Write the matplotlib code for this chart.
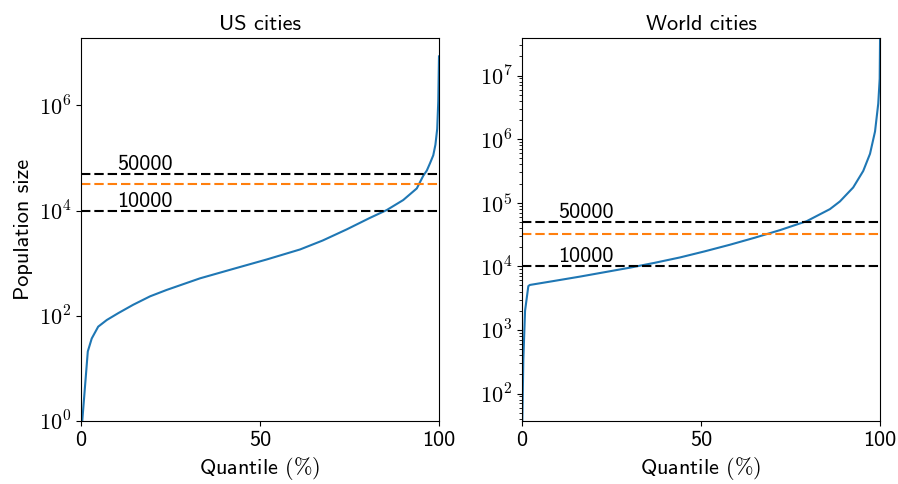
import numpy as np
import matplotlib
matplotlib.use("Agg")
import matplotlib.pyplot as plt
import matplotlib.ticker as mticker

# text in Computer Modern sans, math (tick exponents, percent sign) in CM serif
plt.rcParams["font.family"] = "cmss10"
plt.rcParams["mathtext.fontset"] = "cm"
plt.rcParams["axes.unicode_minus"] = False
plt.rcParams["font.size"] = 16

# quantile (%) -> population of the city at that quantile
us_quantile = [0, 1.9, 3.0, 4.8, 7.2, 10.4, 14.6, 19.3, 23.9, 33.2, 42.5, 51.9,
               61.2, 67.5, 74.2, 80.7, 85.4, 90.0, 93.8, 95.6, 96.6, 97.5, 98.4,
               99.0, 99.5, 99.8, 100]
us_population = [0.5, 21, 37, 62, 83, 112, 162, 234, 309, 513, 776, 1175,
                 1820, 2690, 4370, 7240, 10200, 15800, 26300, 45700, 57500,
                 79400, 112000, 178000, 355000, 1.2e6, 8.5e6]

world_quantile = [0, 0.36, 0.84, 1.76, 2.2, 9.0, 16.2, 30.2, 37.0, 44.1, 51.0,
                  58.1, 65.0, 72.1, 79.5, 86.0, 88.8, 92.5, 95.3, 97.2, 98.6,
                  99.5, 99.9, 100]
world_population = [20, 340, 2000, 4900, 5100, 5900, 6900, 9550, 11350, 13800,
                    17200, 21900, 28200, 37200, 51300, 79400, 105000, 174000,
                    316000, 589000, 1.32e6, 3.63e6, 8.9e6, 3.7e7]

thresholds = [50000, 10000]
cutoff = 32500

titles = ["US cities", "World cities"]

dash = (4.5, 1.9)
decade_fmt = mticker.FuncFormatter(lambda v, p: r"$10^{%d}$" % round(np.log10(v)))

fig, axes = plt.subplots(1, 2, figsize=(8.98, 4.84), dpi=100)
fig.subplots_adjust(left=0.0902, right=0.98, bottom=0.1302, top=0.9215, wspace=0.232)

data = [(us_quantile, us_population), (world_quantile, world_population)]
for ax, (q, pop), title in zip(axes, data, titles):
    ax.plot(q, pop, color="C0", lw=1.5)
    for t in thresholds:
        ax.axhline(t, color="k", ls="--", dashes=dash, lw=1.5)
        ax.text(10, t, str(t), va="bottom", ha="left", fontsize=16)
    ax.axhline(cutoff, color="C1", ls="--", dashes=dash, lw=1.5)
    ax.set_yscale("log")
    ax.set_xlim(0, 100)
    ax.set_xticks([0, 50, 100])
    ax.set_title(title, fontsize=16)
    ax.set_xlabel(r"Quantile $(\%)$", fontsize=16)

axes[0].set_ylim(1, 1.9e7)
axes[0].set_yticks([1, 1e2, 1e4, 1e6])
axes[0].yaxis.set_minor_locator(mticker.NullLocator())
axes[0].yaxis.set_major_formatter(decade_fmt)
axes[0].set_ylabel("Population size", fontsize=16)

axes[1].set_ylim(37, 3.9e7)
axes[1].set_yticks([1e2, 1e3, 1e4, 1e5, 1e6, 1e7])
axes[1].yaxis.set_minor_locator(mticker.LogLocator(base=10, subs=np.arange(2, 10)))
axes[1].yaxis.set_major_formatter(decade_fmt)
axes[1].yaxis.set_minor_formatter(mticker.NullFormatter())

fig.savefig("out.png", dpi=100)
